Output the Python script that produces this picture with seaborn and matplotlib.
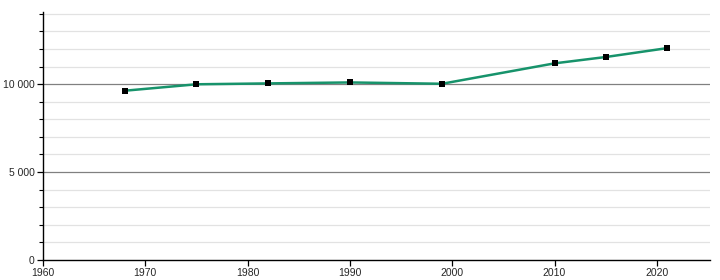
import matplotlib
matplotlib.use("Agg")
import matplotlib.pyplot as plt
import seaborn as sns
import pandas as pd
from matplotlib.ticker import FuncFormatter, MultipleLocator

years = [1968, 1975, 1982, 1990, 1999, 2010, 2015, 2021]
population = [9625, 9990, 10040, 10095, 10020, 11180, 11540, 12045]
x_ticks = [1960, 1970, 1980, 1990, 2000, 2010, 2020]
y_ticks = [0, 5000, 10000]

df = pd.DataFrame({"year": years, "population": population})

sns.set_style("white")
plt.rcParams["font.family"] = ["Liberation Sans", "DejaVu Sans"]

fig = plt.figure(figsize=(7.2, 2.8), dpi=100)
ax = fig.add_axes([43 / 720, 20 / 280, 667 / 720, 248 / 280])

ax.set_xlim(1960, 2025.2)
ax.set_ylim(0, 14100)

for v in range(1000, 15000, 1000):
    if v % 5000 == 0:
        ax.axhline(v, color="#808080", lw=0.9, zorder=1)
    else:
        ax.axhline(v, color="#e2e2e2", lw=0.9, zorder=1)

sns.lineplot(data=df, x="year", y="population", ax=ax, color="#17936b",
             lw=1.8, zorder=3)
ax.scatter(df["year"], df["population"], marker="s", s=14, color="black",
           zorder=4, linewidths=0)

ax.set_xticks(x_ticks)
ax.set_yticks(y_ticks)
ax.yaxis.set_minor_locator(MultipleLocator(1000))
ax.yaxis.set_major_formatter(FuncFormatter(lambda v, p: f"{int(v):,}".replace(",", " ")))
ax.tick_params(axis="both", which="major", length=4, width=0.9, color="black",
               labelsize=7.5, pad=2, direction="out", left=True, bottom=True)
ax.tick_params(axis="y", which="minor", length=3, width=0.8, color="black", left=True)
ax.set_xlabel("")
ax.set_ylabel("")
for s in ["top", "right"]:
    ax.spines[s].set_visible(False)
for s in ["left", "bottom"]:
    ax.spines[s].set_color("black")
    ax.spines[s].set_linewidth(1.0)

fig.savefig("out.png", dpi=100)
